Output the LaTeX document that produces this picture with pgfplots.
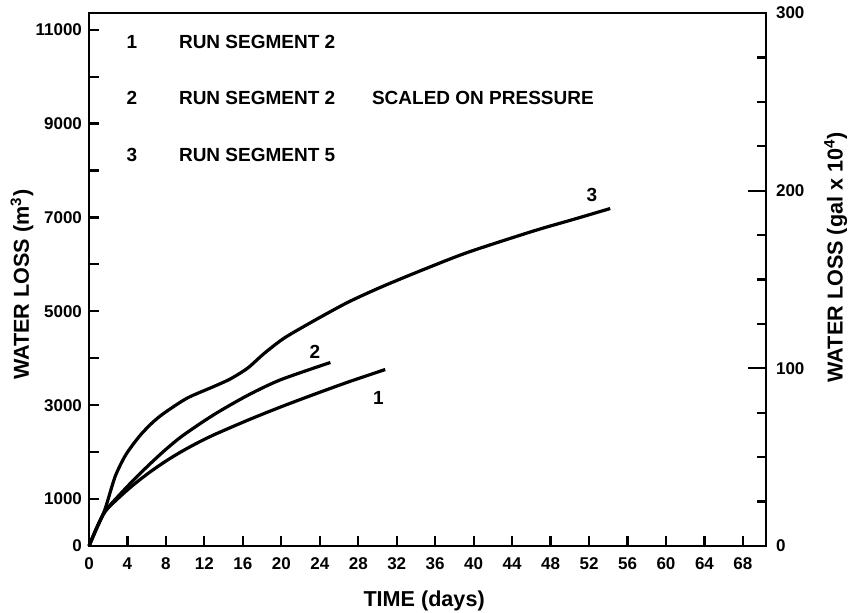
\documentclass[border=0pt]{standalone}
\usepackage{pgfplots}
\pgfplotsset{compat=1.18}
\usepackage{fontspec}
\setmainfont{Liberation Sans}

% cumulative water loss (m^3) against time (days)
\pgfplotstableread{
t v
0 0
0.85 410
1.7 740
3.0 1010
4.6 1300
6.3 1570
8.0 1810
9.6 2010
11.3 2200
13.0 2370
16.5 2680
19.9 2960
23.4 3230
26.9 3490
30.8 3760
}\segA
\pgfplotstableread{
t v
0 0
0.85 410
1.7 750
3.4 1140
4.8 1440
6.4 1760
8.0 2060
9.8 2360
13.0 2800
16.5 3210
19.9 3540
25.1 3910
}\segB
\pgfplotstableread{
t v
0 0
0.85 400
1.66 780
2.7 1470
3.7 1900
4.6 2170
5.5 2400
6.6 2630
7.8 2830
10.2 3150
13.0 3400
14.7 3560
16.5 3790
18.2 4100
20.3 4430
23.4 4800
26.9 5190
30.3 5510
34.3 5850
39.3 6250
46.2 6710
50.4 6960
54.2 7190
}\segC

\newcommand{\tickfont}{\bfseries\fontsize{8.5}{10}\selectfont}
\newcommand{\labfont}{\bfseries\fontsize{10.8}{12}\selectfont}
\newcommand{\keyfont}{\bfseries\fontsize{9.5}{11}\selectfont}

\begin{document}
\begin{tikzpicture}[x=1pt,y=1pt]
\path[use as bounding box] (0,0) rectangle (424.5,306);
\begin{axis}[
  at={(44.5pt,33pt)}, anchor=south west,
  scale only axis, width=338.5pt, height=266.5pt,
  xmin=0, xmax=70.4, ymin=0, ymax=11356,
  axis line style={line width=1.3pt},
  every tick/.style={line width=1.1pt, black},
  tick align=inside,
  xtick pos=bottom, ytick pos=left,
  xtick={0,4,...,68},
  ytick={0,1000,3000,5000,7000,9000,11000},
  minor ytick={2000,4000,6000,8000,10000},
  scaled y ticks=false, scaled x ticks=false,
  major tick length=5pt, minor tick length=5pt,
  /pgf/number format/assume math mode=true,
  /pgf/number format/1000 sep={},
  ticklabel style={font=\tickfont},
  xticklabel style={yshift=-2.5pt},
  clip=false,
]
\addplot[black, mark=none, line width=1.6pt, smooth, tension=0.45] table[x=t,y=v] {\segA};
\addplot[black, mark=none, line width=1.6pt, smooth, tension=0.45] table[x=t,y=v] {\segB};
\addplot[black, mark=none, line width=1.6pt, smooth, tension=0.45] table[x=t,y=v] {\segC};

\node[font=\keyfont] at (axis cs:52.3,7478) {3};
\node[font=\keyfont] at (axis cs:23.5,4140) {2};
\node[font=\keyfont] at (axis cs:30.1,3147) {1};

\node[font=\keyfont] at (axis cs:4.47,10745) {1};
\node[font=\keyfont, anchor=west] at (axis cs:8.63,10745) {RUN SEGMENT 2};
\node[font=\keyfont] at (axis cs:4.47,9539) {2};
\node[font=\keyfont, anchor=west] at (axis cs:8.63,9539) {RUN SEGMENT 2};
\node[font=\keyfont, anchor=west] at (axis cs:28.7,9539) {SCALED ON PRESSURE};
\node[font=\keyfont] at (axis cs:4.47,8331) {3};
\node[font=\keyfont, anchor=west] at (axis cs:8.63,8331) {RUN SEGMENT 5};

\node[font=\labfont] at (axis description cs:0.495,-0.103) {TIME (days)};
\node[font=\labfont, rotate=90] at (axis description cs:-0.099,0.49) {WATER LOSS (m\textsuperscript{3})};
\node[font=\labfont, rotate=90] at (axis description cs:1.103,0.542) {WATER LOSS (gal x 10\textsuperscript{4})};
\end{axis}

% same quantity in 10^4 gallons on the right
\begin{axis}[
  at={(44.5pt,33pt)}, anchor=south west,
  scale only axis, width=338.5pt, height=266.5pt,
  xmin=0, xmax=70.4, ymin=0, ymax=300,
  hide x axis,
  axis y line*=right,
  axis line style={line width=1.3pt},
  every tick/.style={line width=1.1pt, black},
  tick align=inside,
  ytick={0,100,200,300},
  minor ytick={25,50,75,125,150,175,225,250,275},
  major tick length=9pt, minor tick length=4.5pt,
  /pgf/number format/assume math mode=true,
  ticklabel style={font=\tickfont},
  yticklabel style={xshift=1.5pt},
]
\end{axis}
\end{tikzpicture}
\end{document}
